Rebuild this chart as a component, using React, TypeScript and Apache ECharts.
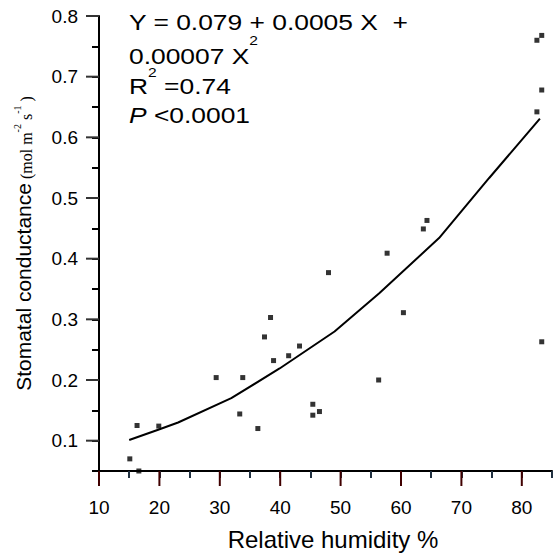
import React, { useEffect, useRef } from 'react';
import * as echarts from 'echarts';

// Observed data (relative humidity %, stomatal conductance)
const humidity = [15.1, 16.6, 16.3, 19.9, 29.4, 33.8, 33.3, 36.3, 37.4, 38.4, 38.9, 41.4, 43.2, 45.4, 45.4, 46.5, 48.0, 56.3, 57.7, 60.4, 63.7, 64.3, 82.5, 83.3, 83.3, 82.5, 83.3];
const conductance = [0.070, 0.050, 0.125, 0.124, 0.204, 0.204, 0.144, 0.120, 0.271, 0.303, 0.232, 0.240, 0.256, 0.160, 0.142, 0.148, 0.377, 0.200, 0.409, 0.311, 0.449, 0.463, 0.760, 0.768, 0.678, 0.642, 0.263];

// Fitted curve
const fitHumidity = [15.0, 19.8, 23.1, 31.9, 39.9, 49.0, 56.4, 66.3, 74.6, 83.0];
const fitConductance = [0.101, 0.118, 0.130, 0.170, 0.219, 0.280, 0.343, 0.434, 0.533, 0.631];

// Axis ranges and tick values
const xRange = [10, 85];
const yRange = [0.05, 0.8];
const xMinorStep = 5;
const yMinorStep = 0.05;
const xMajorTicks = [10, 20, 30, 40, 50, 60, 70, 80];
const yMajorTicks = [0.1, 0.2, 0.3, 0.4, 0.5, 0.6, 0.7, 0.8];

const SANS = 'Liberation Sans, Arial, Helvetica, sans-serif';
const SERIF = 'Liberation Serif, Times New Roman, serif';

const GRID = { left: 99, top: 16, width: 454, height: 455 };

export default function App() {
  const plotRef = useRef<HTMLDivElement>(null);
  const textRef = useRef<HTMLDivElement>(null);

  useEffect(() => {
    if (!plotRef.current || !textRef.current) return;
    const plot = echarts.init(plotRef.current, undefined, { renderer: 'svg' });
    const texts = echarts.init(textRef.current, undefined, { renderer: 'svg' });
    const ink = '#000';

    const majorTicks = (values: number[], dir: 'x' | 'y', len: number, color: string) => ({
      type: 'custom', clip: false,
      data: values.map(v => (dir === 'x' ? [v, yRange[0]] : [xRange[0], v])),
      renderItem: (_p: any, api: any) => {
        const pt = api.coord([api.value(0), api.value(1)]);
        const shape = dir === 'x'
          ? { x: pt[0] - 1, y: pt[1], width: 2, height: len }
          : { x: pt[0] - len, y: pt[1] - 1, width: len, height: 2 };
        return { type: 'rect', shape, style: { fill: color } };
      },
    });

    plot.setOption({
      animation: false,
      grid: GRID,
      xAxis: {
        type: 'value', min: xRange[0], max: xRange[1], interval: xMinorStep,
        axisLine: { show: true, onZero: false, lineStyle: { color: ink, width: 2 } },
        axisTick: { show: true, length: 7, lineStyle: { color: '#203040', width: 2 } },
        axisLabel: {
          show: true, fontSize: 19, color: ink, fontFamily: SANS, margin: 27,
          formatter: (v: number) => (xMajorTicks.indexOf(Math.round(v)) >= 0 ? String(Math.round(v)) : ''),
        },
        splitLine: { show: false },
      },
      yAxis: {
        type: 'value', min: yRange[0], max: yRange[1], interval: yMinorStep,
        axisLine: { show: true, onZero: false, lineStyle: { color: ink, width: 2 } },
        axisTick: { show: true, length: 7, lineStyle: { color: 'rgb(0,0,0)', width: 2 } },
        axisLabel: {
          show: true, fontSize: 19, color: ink, fontFamily: SANS, margin: 21,
          formatter: (v: number) => (yMajorTicks.some(t => Math.abs(t - v) < 1e-6) ? v.toFixed(1) : ''),
        },
        splitLine: { show: false },
      },
      series: [
        {
          type: 'line',
          data: fitHumidity.map((x, i) => [x, fitConductance[i]]),
          showSymbol: false,
          lineStyle: { color: ink, width: 2 },
        },
        {
          type: 'scatter',
          data: humidity.map((x, i) => [x, conductance[i]]),
          symbol: 'rect', symbolSize: 5,
          itemStyle: { color: ink },
        },
        majorTicks(xMajorTicks, 'x', 15, '#400000'),
        majorTicks(yMajorTicks, 'y', 13, '#333333'),
      ],
    } as any);

    const mainTok = { fontSize: 22, lineHeight: 22, fontFamily: SANS, color: ink, verticalAlign: 'bottom' };
    const supTok = (lh: number) => ({ fontSize: 13, lineHeight: lh, fontFamily: SANS, color: ink, verticalAlign: 'middle' });
    const eqScale = 1.2;

    texts.setOption({
      animation: false,
      grid: GRID,
      xAxis: {
        type: 'value', min: xRange[0], max: xRange[1],
        axisLine: { show: false }, axisTick: { show: false }, axisLabel: { show: false }, splitLine: { show: false },
        name: 'Relative humidity %', nameLocation: 'middle', nameGap: 56,
        nameTextStyle: { fontSize: 24, color: ink, fontFamily: SANS, padding: [0, 0, 0, 14] },
      },
      yAxis: {
        type: 'value', min: yRange[0], max: yRange[1],
        axisLine: { show: false }, axisTick: { show: false }, axisLabel: { show: false }, splitLine: { show: false },
        name: '{a|Stomatal conductance}{b| (mol m}{s|-2}{b| s}{s|-1}{b| )}',
        nameLocation: 'middle', nameRotate: 90, nameGap: 65,
        nameTextStyle: {
          color: ink,
          rich: {
            a: { fontSize: 21, fontFamily: SANS, color: ink, lineHeight: 22, verticalAlign: 'bottom' },
            b: { fontSize: 16, fontFamily: SERIF, color: ink, lineHeight: 22, verticalAlign: 'bottom' },
            s: { fontSize: 10, fontFamily: SERIF, color: ink, lineHeight: 10, verticalAlign: 'top' },
          },
        },
      },
      series: [],
      graphic: [
        {
          type: 'text', x: 129, y: 11.3, scaleX: eqScale,
          style: { text: '{m|Y = 0.079 + 0.0005 X  +}', verticalAlign: 'top', rich: { m: mainTok } },
        },
        {
          type: 'text', x: 129, y: 13.7, scaleX: eqScale,
          style: { text: '{m|0.00007 X}{s|2}', verticalAlign: 'top', rich: { m: mainTok, s: supTok(54) } },
        },
        {
          type: 'text', x: 129, y: 47.7, scaleX: eqScale,
          style: { text: '{m|R}{s|2}{m| =0.74}', verticalAlign: 'top', rich: { m: mainTok, s: supTok(50) } },
        },
        {
          type: 'text', x: 129, y: 104.7, scaleX: eqScale,
          style: { text: '{i|P}{m| <0.0001}', verticalAlign: 'top', rich: { m: mainTok, i: { ...mainTok, fontStyle: 'italic' } } },
        },
      ],
    } as any);

    return () => {
      plot.dispose();
      texts.dispose();
    };
  }, []);

  return (
    <div style={{ position: 'fixed', left: 0, top: 0, width: 555, height: 556, background: '#fff' }}>
      <div ref={plotRef} style={{ position: 'absolute', left: 0, top: 0, width: 555, height: 556 }} />
      <div ref={textRef} style={{ position: 'absolute', left: 0, top: 0, width: 555, height: 556, pointerEvents: 'none' }} />
    </div>
  );
}
